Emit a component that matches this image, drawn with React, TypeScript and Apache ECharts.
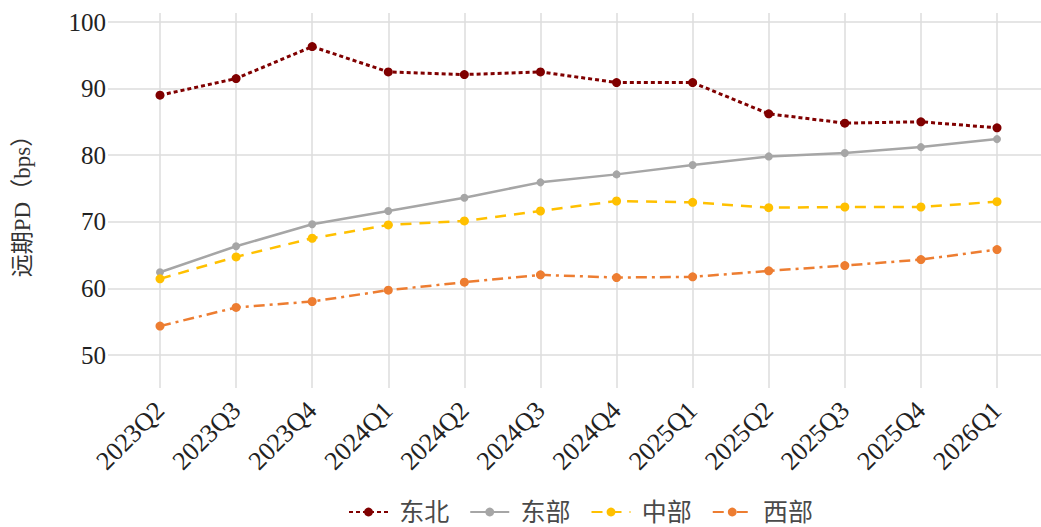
import React, { useEffect, useRef } from "react";
import * as echarts from "echarts";

const categories = [
  "2023Q2", "2023Q3", "2023Q4", "2024Q1", "2024Q2", "2024Q3",
  "2024Q4", "2025Q1", "2025Q2", "2025Q3", "2025Q4", "2026Q1",
];
const dongbei = [89.0, 91.5, 96.3, 92.5, 92.1, 92.5, 90.9, 90.9, 86.2, 84.8, 85.0, 84.1];
const dongbu = [62.4, 66.3, 69.6, 71.6, 73.6, 75.9, 77.1, 78.5, 79.8, 80.3, 81.2, 82.4];
const zhongbu = [61.4, 64.7, 67.5, 69.5, 70.1, 71.6, 73.1, 72.9, 72.1, 72.2, 72.2, 73.0];
const xibu = [54.3, 57.1, 58.0, 59.7, 60.9, 62.0, 61.6, 61.7, 62.6, 63.4, 64.3, 65.8];
const seriesNames = ["东北", "东部", "中部", "西部"];
const yTicks = [50, 60, 70, 80, 90, 100];

const FONT = "'Liberation Serif', 'Noto Sans CJK SC', serif";

export default function App() {
  const ref = useRef<HTMLDivElement>(null);
  useEffect(() => {
    if (!ref.current) return;
    const chart = echarts.init(ref.current, undefined, { renderer: "svg" });
    const mk = (name: string, data: number[], color: string, type: any, width: number, size: number) => ({
      name,
      type: "line",
      xAxisIndex: 1,
      yAxisIndex: 1,
      data,
      symbol: "circle",
      symbolSize: size,
      lineStyle: { color, width, type },
      itemStyle: { color },
    });
    chart.setOption({
      animation: false,
      backgroundColor: "#ffffff",
      grid: [
        { left: 108, right: 0, top: 22, bottom: 172 },
        { left: 160, right: 44, top: 13, bottom: 139 },
      ],
      xAxis: [
        { gridIndex: 0, type: "value", show: false, min: 0, max: 1 },
        {
          gridIndex: 1,
          type: "category",
          boundaryGap: false,
          data: categories,
          axisLine: { show: false },
          axisTick: { show: false },
          splitLine: { show: true, lineStyle: { color: "#dcdcdc", width: 1.5 } },
          axisLabel: {
            rotate: 45,
            margin: 18,
            fontSize: 26,
            color: "#222222",
            fontFamily: FONT,
          },
        },
      ],
      yAxis: [
        {
          gridIndex: 0,
          type: "value",
          min: yTicks[0],
          max: yTicks[yTicks.length - 1],
          interval: 10,
          axisLine: { show: false },
          axisTick: { show: false },
          axisLabel: { margin: 2, fontSize: 25, color: "#222222", fontFamily: FONT },
          splitLine: { show: true, lineStyle: { color: "#dcdcdc", width: 1.5 } },
        },
        {
          gridIndex: 1,
          type: "value",
          min: 45,
          max: 101.35,
          axisLine: { show: false },
          axisTick: { show: false },
          axisLabel: { show: false },
          splitLine: { show: false },
          name: "远期PD（bps）",
          nameLocation: "middle",
          nameGap: 126,
          nameTextStyle: { fontSize: 23, color: "#333333", fontFamily: FONT },
        },
      ],
      legend: {
        data: seriesNames,
        left: 348,
        top: 499,
        padding: 0,
        itemWidth: 39,
        itemHeight: 11,
        itemGap: 20,
        formatter: (n: string) => " " + n,
        textStyle: { fontSize: 25, lineHeight: 26, color: "#4a4a4a", fontFamily: FONT },
      },
      series: [
        mk(seriesNames[0], dongbei, "#800000", [4, 3], 3, 9),
        mk(seriesNames[1], dongbu, "#a6a6a6", "solid", 2.5, 8),
        mk(seriesNames[2], zhongbu, "#ffc000", [11, 8], 2.5, 9),
        mk(seriesNames[3], xibu, "#ed7d31", [11, 5, 3, 5], 2.5, 9),
      ],
    });
    return () => chart.dispose();
  }, []);
  return (
    <div
      ref={ref}
      style={{ position: "fixed", left: 0, top: 0, width: 1041, height: 527, background: "#fff" }}
    />
  );
}
